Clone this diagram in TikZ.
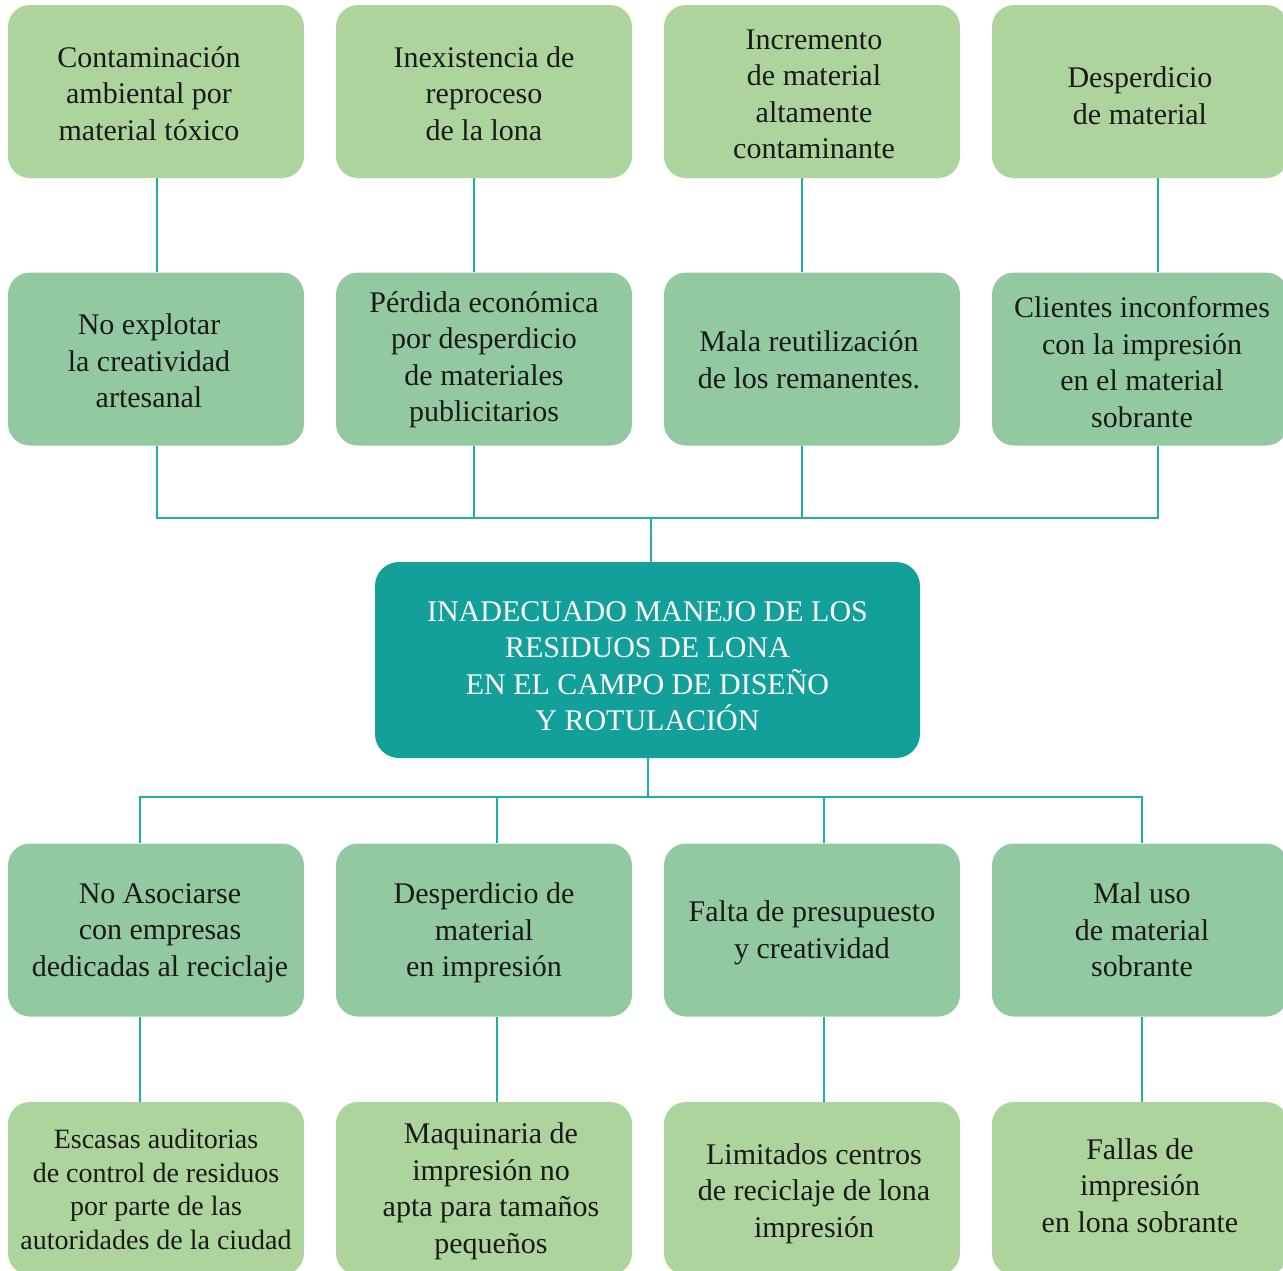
\documentclass[tikz,border=0pt]{standalone}
\usepackage{fontspec}
\setmainfont{Liberation Serif}
\usetikzlibrary{calc}
\definecolor{lightleaf}{HTML}{AED49E}
\definecolor{midleaf}{HTML}{92C9A0}
\definecolor{coreteal}{HTML}{13A09A}
\definecolor{linkteal}{HTML}{1EB0A7}
\definecolor{inktext}{HTML}{1A1A1A}
\tikzset{
  box/.style={draw=none, rounded corners=22pt, minimum width=296pt, minimum height=173pt, inner sep=0pt},
  effect/.style={box, fill=lightleaf},
  cause/.style={box, fill=midleaf},
  root/.style={box, fill=lightleaf},
  core/.style={draw=none, rounded corners=24pt, minimum width=545pt, minimum height=196pt,
    fill=coreteal, inner sep=0pt},
  boxtext/.style={align=center, text=inktext, inner sep=0pt, font=\fontsize{30}{36.5}\selectfont},
  coretext/.style={boxtext, text=white},
  link/.style={draw=linkteal, line width=2.5pt}
}
\begin{document}
\begin{tikzpicture}[x=1pt,y=-1pt]
\useasboundingbox (0,0) rectangle (1283,1270);

% effects
\node[effect, label={[boxtext, name=e1t, xshift=-7pt, yshift=-2pt]center:Contaminación\\ambiental por\\material tóxico}] (e1) at (156,91.5) {};
\node[effect, label={[boxtext, name=e2t, yshift=-2pt]center:Inexistencia de\\reproceso\\de la lona}] (e2) at (484,91.5) {};
\node[effect, label={[boxtext, name=e3t, xshift=2pt, yshift=-3pt]center:Incremento\\de material\\altamente\\contaminante}] (e3) at (812,91.5) {};
\node[effect, label={[boxtext, name=e4t, yshift=-4pt]center:Desperdicio\\de material}] (e4) at (1140,91.5) {};

% direct effects
\node[cause, label={[boxtext, name=d1t, xshift=-7pt, yshift=-2pt]center:No explotar\\la creatividad\\artesanal}] (d1) at (156,359) {};
\node[cause, label={[boxtext, name=d2t, yshift=-1pt]center:Pérdida económica\\por desperdicio\\de materiales\\publicitarios}] (d2) at (484,359) {};
\node[cause, label={[boxtext, name=d3t, xshift=-3pt, yshift=-1pt]center:Mala reutilización\\de los remanentes.}] (d3) at (812,359) {};
\node[cause, label={[boxtext, name=d4t, xshift=2pt, yshift=-3pt]center:Clientes inconformes\\con la impresión\\en el material\\sobrante}] (d4) at (1140,359) {};

% central problem
\node[core, label={[coretext, name=pt, yshift=-6pt]center:INADECUADO MANEJO DE LOS\\RESIDUOS DE LONA\\EN EL CAMPO DE DISEÑO\\Y ROTULACIÓN}] (p) at (647.5,660) {};

% direct causes
\node[cause, label={[boxtext, name=c1t, xshift=4pt, yshift=-3pt]center:No Asociarse\\con empresas\\dedicadas al reciclaje}] (c1) at (156,930) {};
\node[cause, label={[boxtext, name=c2t, yshift=-3pt]center:Desperdicio de\\material\\en impresión}] (c2) at (484,930) {};
\node[cause, label={[boxtext, name=c3t, yshift=-3pt]center:Falta de presupuesto\\y creatividad}] (c3) at (812,930) {};
\node[cause, label={[boxtext, name=c4t, xshift=2pt]center:Mal uso\\de material\\sobrante}] (c4) at (1140,930) {};

% root causes
\node[root, label={[boxtext, name=r1t, font=\fontsize{28}{33.5}\selectfont, yshift=-1pt]center:Escasas auditorias\\de control de residuos\\por parte de las\\autoridades de la ciudad}] (r1) at (156,1188.5) {};
\node[root, label={[boxtext, name=r2t, xshift=7pt, yshift=-3pt]center:Maquinaria de\\impresión no\\apta para tamaños\\pequeños}] (r2) at (484,1188.5) {};
\node[root, label={[boxtext, name=r3t, xshift=2pt, yshift=-5pt]center:Limitados centros\\de reciclaje de lona\\impresión}] (r3) at (812,1188.5) {};
\node[root, label={[boxtext, name=r4t, yshift=3pt]center:Fallas de\\impresión\\en lona sobrante}] (r4) at (1140,1188.5) {};

% junction points
\coordinate (jt) at (651,518);
\coordinate (jb) at (648,797);

% effect tree
\draw[link] ([xshift=1pt]e1.south) -- ([xshift=1pt]d1.north);
\draw[link] ([xshift=-10pt]e2.south) -- ([xshift=-10pt]d2.north);
\draw[link] ([xshift=-10pt]e3.south) -- ([xshift=-10pt]d3.north);
\draw[link] ([xshift=18pt]e4.south) -- ([xshift=18pt]d4.north);
\draw[link] ([xshift=1pt]d1.south) |- (jt);
\draw[link] ([xshift=18pt]d4.south) |- (jt);
\draw[link] ([xshift=-10pt]d2.south) -- ([xshift=-10pt]d2.south |- jt);
\draw[link] ([xshift=-10pt]d3.south) -- ([xshift=-10pt]d3.south |- jt);
\draw[link] (jt) -- (jt |- p.north);

% cause tree
\draw[link] (jb |- p.south) -- (jb);
\draw[link] (jb) -| ([xshift=-16pt]c1.north);
\draw[link] (jb) -| ([xshift=2pt]c4.north);
\draw[link] ([xshift=13pt]c2.north |- jb) -- ([xshift=13pt]c2.north);
\draw[link] ([xshift=12pt]c3.north |- jb) -- ([xshift=12pt]c3.north);
\draw[link] ([xshift=-16pt]c1.south) -- ([xshift=-16pt]r1.north);
\draw[link] ([xshift=13pt]c2.south) -- ([xshift=13pt]r2.north);
\draw[link] ([xshift=12pt]c3.south) -- ([xshift=12pt]r3.north);
\draw[link] ([xshift=2pt]c4.south) -- ([xshift=2pt]r4.north);
\end{tikzpicture}
\end{document}
